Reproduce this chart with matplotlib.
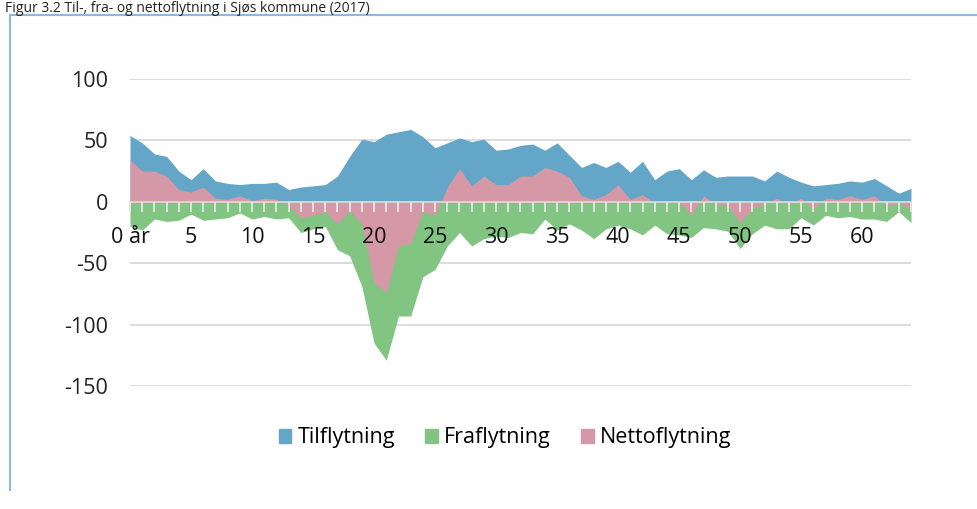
import matplotlib.pyplot as plt
import numpy as np
from matplotlib.lines import Line2D
from matplotlib.patches import Patch

plt.rcParams['font.family'] = ['Open Sans', 'DejaVu Sans']

# alder 0-64
ages = np.arange(0, 65)
tilflytning = [54, 48, 39, 37, 25, 18, 27, 17, 15, 14, 15, 15, 16,
               10, 12, 13, 14, 21, 37, 51, 49, 55, 57, 59, 53, 44,
               48, 52, 49, 51, 42, 43, 46, 47, 42, 48, 38, 28, 32,
               28, 33, 24, 33, 18, 25, 27, 18, 26, 20, 21, 21, 21,
               17, 25, 20, 16, 13, 14, 15, 17, 16, 19, 13, 7, 11]
fraflytning = [20, 23, 14, 16, 15, 10, 15, 14, 13, 9, 14, 12, 14,
               13, 25, 22, 20, 39, 44, 69, 115, 129, 93, 93, 61, 55,
               36, 25, 36, 30, 28, 29, 25, 26, 14, 23, 18, 23, 30,
               22, 19, 22, 27, 19, 26, 27, 29, 21, 22, 24, 38, 26,
               19, 22, 22, 13, 19, 11, 13, 12, 14, 14, 16, 8, 17]
nettoflytning = [34, 25, 25, 21, 10, 8, 12, 3, 2, 5, 1, 3, 2,
                 -3, -13, -11, -8, -18, -7, -18, -66, -74, -36, -34, -8, -11,
                 12, 27, 13, 21, 14, 14, 21, 21, 28, 25, 20, 5, 2,
                 6, 14, 2, 6, -1, -1, 0, -11, 5, -2, -3, -17, -5,
                 -2, 3, -2, 3, -6, 3, 2, 5, 2, 5, -3, -1, -6]

xticks = list(range(0, 61, 5))
xticklabels = ['0 år'] + [str(v) for v in xticks[1:]]
yticks = [100, 50, 0, -50, -100, -150]
series = ['Tilflytning', 'Fraflytning', 'Nettoflytning']
colors = ['#63a6c7', '#82c482', '#d498a6']

fig = plt.figure(figsize=(9.78, 5.09), dpi=100)
ax = fig.add_axes([130/978, 1 - 386/509, 781/978, 307/509])

ax.fill_between(ages, 0, tilflytning, color=colors[0], lw=0, zorder=1)
ax.fill_between(ages, 0, -np.array(fraflytning), color=colors[1], lw=0, zorder=1)
ax.fill_between(ages, 0, nettoflytning, color=colors[2], lw=0, zorder=1)

ax.set_xlim(0, 64)
ax.set_ylim(-150, 100)
ax.set_yticks(yticks)
ax.set_yticklabels([str(v) for v in yticks])
ax.yaxis.grid(True, color='#d9d9d9', lw=1.3)
ax.yaxis.set_zorder(0.5)
ax.tick_params(axis='y', length=0, pad=16, labelsize=15.5, colors='#222222')

ax.set_xticks(xticks)
ax.set_xticklabels(xticklabels)
ax.set_xticks(ages, minor=True)
ax.tick_params(axis='x', which='both', direction='out', length=7, width=1.3,
               color='#e6e6e6', labelsize=15.5, labelcolor='#111111', pad=11)
ax.xaxis.set_zorder(5)

for s in ['top', 'right', 'left']:
    ax.spines[s].set_visible(False)
ax.spines['bottom'].set_position(('data', 0))
ax.spines['bottom'].set_color('#d9d9d9')
ax.spines['bottom'].set_linewidth(1.3)
ax.spines['bottom'].set_zorder(5)

handles = [Patch(color=c) for c in colors]
fig.legend(handles, series, loc='center', bbox_to_anchor=(505/978, 1 - 438/509),
           ncol=3, frameon=False, fontsize=15.5, handlelength=0.58, handleheight=0.58,
           handletextpad=0.3, columnspacing=1.4)

# ramme og tittel
fig.add_artist(Line2D([10/978, 10/978], [1 - 15/509, 1 - 490/509], color='#8fb9dc', lw=1.5))
fig.add_artist(Line2D([10/978, 1], [1 - 15/509, 1 - 15/509], color='#8fb9dc', lw=1.5))
fig.text(5/978, 1 - 1/509, 'Figur 3.2 Til-, fra- og nettoflytning i Sjøs kommune (2017)',
         fontsize=10, color='#222222', ha='left', va='top')

fig.savefig('out.png', dpi=100)
